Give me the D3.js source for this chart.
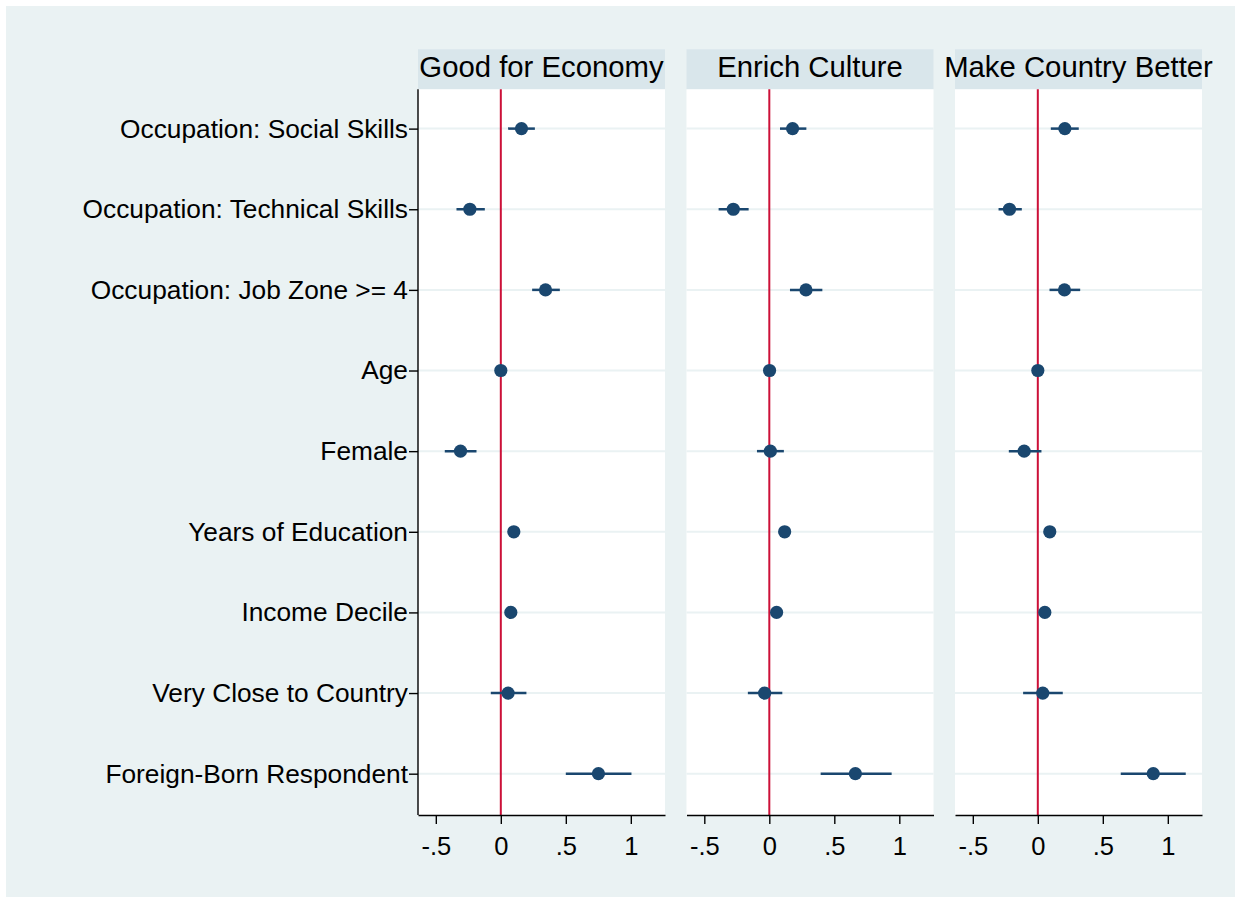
<!DOCTYPE html>
<html>
<head>
<meta charset="utf-8">
<script src="https://cdn.jsdelivr.net/npm/d3@7"></script>
<style>
  html, body { margin: 0; padding: 0; background: #ffffff; }
  svg { display: block; font-family: "Liberation Sans", Arial, Helvetica, sans-serif; }
</style>
</head>
<body>
<svg id="chart" width="1241" height="903"></svg>
<script>
// Coefficient plot: three outcome models, shared predictors.
const categories = [
  "Occupation: Social Skills",
  "Occupation: Technical Skills",
  "Occupation: Job Zone >= 4",
  "Age",
  "Female",
  "Years of Education",
  "Income Decile",
  "Very Close to Country",
  "Foreign-Born Respondent"
];

const panelTitles = ["Good for Economy", "Enrich Culture", "Make Country Better"];

// Point estimates and 95% interval bounds per model
const economyEst = [0.159, -0.238, 0.344, 0.000, -0.310, 0.100, 0.077, 0.056, 0.751];
const economyLo  = [0.056, -0.341, 0.241, -0.008, -0.431, 0.085, 0.064, -0.077, 0.500];
const economyHi  = [0.262, -0.123, 0.454, 0.008, -0.187, 0.115, 0.090, 0.197, 1.005];

const cultureEst = [0.179, -0.277, 0.282, 0.002, 0.008, 0.118, 0.056, -0.036, 0.662];
const cultureLo  = [0.082, -0.390, 0.159, -0.006, -0.095, 0.103, 0.043, -0.165, 0.395];
const cultureHi  = [0.285, -0.159, 0.408, 0.010, 0.112, 0.133, 0.069, 0.100, 0.941];

const countryEst = [0.208, -0.218, 0.205, 0.000, -0.105, 0.092, 0.054, 0.038, 0.888];
const countryLo  = [0.100, -0.302, 0.090, -0.008, -0.223, 0.077, 0.041, -0.113, 0.638];
const countryHi  = [0.315, -0.123, 0.326, 0.008, 0.028, 0.107, 0.067, 0.192, 1.138];

const xTicks = [-0.5, 0, 0.5, 1];
const xTickLabels = ["-.5", "0", ".5", "1"];

const panels = [
  { title: panelTitles[0], est: economyEst, lo: economyLo, hi: economyHi },
  { title: panelTitles[1], est: cultureEst, lo: cultureLo, hi: cultureHi },
  { title: panelTitles[2], est: countryEst, lo: countryLo, hi: countryHi }
];

const svg = d3.select("#chart");
const W = 1241, H = 903;

const colors = {
  outer: "#eaf2f3",
  strip: "#d9e6eb",
  grid: "#eaf2f3",
  ref: "#cc1038",
  mark: "#1a476f",
  axis: "#000000"
};

// Outer graph region
svg.append("rect")
  .attr("x", 6).attr("y", 6)
  .attr("width", W - 12).attr("height", H - 12)
  .attr("fill", colors.outer);

const plotTop = 89.3, plotBottom = 815;
const stripTop = 49.3;
const panelLeft = [418, 686.5, 955];
const panelWidth = 247;
const xDomain = [-0.637, 1.263];

const y = d3.scalePoint()
  .domain(categories)
  .range([plotTop - 1, plotBottom - 1])
  .padding(0.5);

panels.forEach((p, i) => {
  const x0 = panelLeft[i];
  const x = d3.scaleLinear().domain(xDomain).range([x0, x0 + panelWidth]);
  const g = svg.append("g");

  // Strip header
  g.append("rect")
    .attr("x", x0).attr("y", stripTop)
    .attr("width", panelWidth).attr("height", plotTop - stripTop)
    .attr("fill", colors.strip);
  g.append("text")
    .attr("x", x0 + panelWidth / 2).attr("y", 77.3)
    .attr("text-anchor", "middle")
    .attr("font-size", 29.3)
    .attr("fill", "#000")
    .text(p.title);

  // Plot region
  g.append("rect")
    .attr("x", x0).attr("y", plotTop)
    .attr("width", panelWidth).attr("height", plotBottom - plotTop)
    .attr("fill", "#ffffff");

  // Horizontal grid lines at each predictor
  g.append("g").selectAll("line")
    .data(categories).join("line")
    .attr("x1", x0).attr("x2", x0 + panelWidth)
    .attr("y1", d => y(d)).attr("y2", d => y(d))
    .attr("stroke", colors.grid).attr("stroke-width", 2);

  // Reference line at zero
  g.append("line")
    .attr("x1", x(0)).attr("x2", x(0))
    .attr("y1", plotTop).attr("y2", plotBottom)
    .attr("stroke", colors.ref).attr("stroke-width", 2);

  // Confidence intervals
  g.append("g").selectAll("line")
    .data(categories).join("line")
    .attr("x1", (d, k) => x(p.lo[k])).attr("x2", (d, k) => x(p.hi[k]))
    .attr("y1", d => y(d)).attr("y2", d => y(d))
    .attr("stroke", colors.mark).attr("stroke-width", 2.5);

  // Point estimates
  g.append("g").selectAll("circle")
    .data(categories).join("circle")
    .attr("cx", (d, k) => x(p.est[k]))
    .attr("cy", d => y(d))
    .attr("r", 6.6)
    .attr("fill", colors.mark);

  // Bottom axis
  const xAxis = d3.axisBottom(x)
    .tickValues(xTicks)
    .tickFormat((d, k) => xTickLabels[k])
    .tickSize(9)
    .tickSizeOuter(0);
  const ax = g.append("g")
    .attr("transform", `translate(0,${plotBottom})`)
    .call(xAxis);
  ax.select(".domain").attr("stroke", colors.axis).attr("stroke-width", 1.4);
  ax.selectAll(".tick line").attr("stroke", colors.axis).attr("stroke-width", 1.4);
  ax.selectAll(".tick text")
    .attr("y", 40).attr("dy", 0)
    .attr("font-size", 25.5)
    .attr("font-family", "Liberation Sans, Arial, sans-serif")
    .attr("fill", "#000");

  // Left axis with predictor labels on the first panel only
  if (i === 0) {
    const yAxis = d3.axisLeft(y).tickSize(9).tickSizeOuter(0).tickPadding(1);
    const ay = g.append("g")
      .attr("transform", `translate(${x0},0)`)
      .call(yAxis);
    ay.select(".domain")
      .attr("d", `M0,${plotTop}V${plotBottom}`)
      .attr("stroke", colors.axis).attr("stroke-width", 1.4);
    ay.selectAll(".tick line").attr("stroke", colors.axis).attr("stroke-width", 1.4);
    ay.selectAll(".tick text")
      .attr("font-size", 26.3)
      .attr("font-family", "Liberation Sans, Arial, sans-serif")
      .attr("fill", "#000");
  }
});
</script>
</body>
</html>
